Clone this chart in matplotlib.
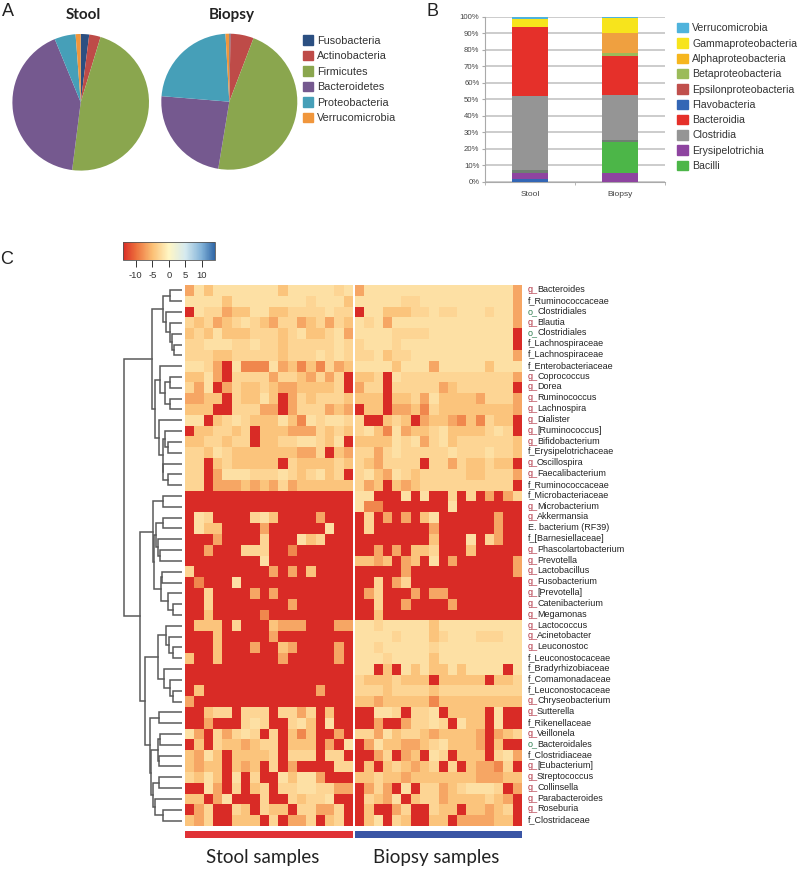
import matplotlib
matplotlib.use("Agg")
import matplotlib.pyplot as plt
import numpy as np
from matplotlib.colors import LinearSegmentedColormap, Normalize
from matplotlib.patches import Patch

plt.rcParams['font.family'] = ['Liberation Sans', 'DejaVu Sans']
plt.rcParams['axes.unicode_minus'] = False

W, H = 800, 869

# panel A
phyla = ["Fusobacteria", "Actinobacteria", "Firmicutes", "Bacteroidetes", "Proteobacteria", "Verrucomicrobia"]
phyla_colors = ["#2B4F81", "#BE4B48", "#8AA64E", "#75598F", "#469FB8", "#F0963C"]
stool_pie = [2.0, 2.7, 47.3, 41.8, 5.0, 1.2]
biopsy_pie = [0.3, 5.5, 46.8, 23.7, 22.8, 0.9]

# panel B, legend order top to bottom
classes = ["Verrucomicrobia", "Gammaproteobacteria", "Alphaproteobacteria", "Betaproteobacteria",
           "Epsilonproteobacteria", "Flavobacteria", "Bacteroidia", "Clostridia", "Erysipelotrichia", "Bacilli"]
class_colors = ["#4FB3DC", "#F7E41C", "#F6B61E", "#9BBB59", "#C0504D", "#3366B5", "#E5302A", "#959595", "#8E44A0", "#4CB648"]
# bottom to top
stool_names = ["Flavobacteria", "Erysipelotrichia", "other", "Clostridia", "Bacteroidia", "Gammaproteobacteria", "Verrucomicrobia"]
stool_vals = [1.5, 3.5, 2.0, 45.0, 42.0, 4.8, 1.2]
biopsy_names = ["Erysipelotrichia", "Bacilli", "other", "Clostridia", "Bacteroidia", "Betaproteobacteria", "Alphaproteobacteria", "Gammaproteobacteria", "Verrucomicrobia"]
biopsy_vals = [5.5, 18.5, 1.5, 27.0, 23.5, 2.0, 12.0, 9.3, 0.7]
other_color = "#6F7F72"

# panel C
labels = ["g_Bacteroides", "f_Ruminococcaceae", "o_Clostridiales", "g_Blautia", "o_Clostridiales",
          "f_Lachnospiraceae", "f_Lachnospiraceae", "f_Enterobacteriaceae", "g_Coprococcus", "g_Dorea",
          "g_Ruminococcus", "g_Lachnospira", "g_Dialister", "g_[Ruminococcus]", "g_Bifidobacterium",
          "f_Erysipelotrichaceae", "g_Oscillospira", "g_Faecalibacterium", "f_Ruminococcaceae", "f_Microbacteriaceae",
          "g_Microbacterium", "g_Akkermansia", "E. bacterium (RF39)", "f_[Barnesiellaceae]", "g_Phascolartobacterium",
          "g_Prevotella", "g_Lactobacillus", "g_Fusobacterium", "g_[Prevotella]", "g_Catenibacterium",
          "g_Megamonas", "g_Lactococcus", "g_Acinetobacter", "g_Leuconostoc", "f_Leuconostocaceae",
          "f_Bradyrhizobiaceae", "f_Comamonadaceae", "f_Leuconostocaceae", "g_Chryseobacterium", "g_Sutterella",
          "f_Rikenellaceae", "g_Veillonela", "o_Bacteroidales", "f_Clostridiaceae", "g_[Eubacterium]",
          "g_Streptococcus", "g_Collinsella", "g_Parabacteroides", "g_Roseburia", "f_Clostridaceae"]

# one char per cell, see level_values
level_values = {'1': -2.0, '2': -3.0, '3': -4.5, '4': -6.5, '5': -8.5, 'x': -14.0}
stool_rows = [
    "413111111131111121", "111131111111121113", "x12243311332222122", "232432123422432423",
    "323133322232133214", "221112212232222212", "222332222232221212", "1124x1555143535243",
    "3314x222242234242x", "241x4233234433332x", "4433x23313x4232223", "333xx22244x4222434",
    "11x321233313512112", "x332232x3334442323", "3322322x332211231x", "223123333333442x34",
    "22x3233333x2333323", "22x41112221232132x", "22x444343424333333", "xxxxxxxxxxxxxxxxxx",
    "xxxxxxxxxxxxxxxxxx", "x12xxxx213xxxx4xxx", "x133xxxx4xxxxxx1xx", "xxx4xxxx2xxx132xxx",
    "xx4xxx222xx5xxxxxx", "xxxxxxxx1xxxxxxxxx", "2xxxxxxxx4x4x3xxxx", "x5xxx1xxxxxxxxxxxx",
    "xx2xxxx4x4xxxxxxxx", "xx2xxxxxxxx4xxxxxx", "xx3xxxxx5xxxxxxxxx", "x333x2xxx3444xxx44",
    "xxx3xxxxx4xxxxxxxx", "xxx3xxx4xx34xxxx4x", "3xx3xxxxxx4xxxxx4x", "xxxxxxxxxxxxxxxxxx",
    "xxxxxxxxxxxxxxxxxx", "x3xxxxxxxxxxxx4xxx", "4xxxxxxxxxxxxxxxxx", "xx322x222x2242x3xx",
    "xx4xxx212xx213x1xx", "14x24212x2x353xx4x", "x3x2334322x333x4x1", "3413x33332x222x22x",
    "3433x343x2x4xxxx22", "2313x1x2xx13114xxx", "xx14x2x32x22112244", "33x41xxx2xx23221xx",
    "x42xx23x233x22442x", "342xx333x2x442x32x"]
biopsy_rows = [
    "411111111111111114", "111112211111111114", "x11333221221112114", "121411111111111114",
    "11112222111111111x", "21112111111111111x", "221322111111111114", "111131114111113111",
    "332x12222222222224", "422x2222243222222x", "333x33241333342224", "x33x44352333333334",
    "2xx323x4334535233x", "21351433213333212x", "333312142132222223", "224212222212221223",
    "2342222x224233233x", "213412322222332224", "243x3432222222222x", "11xxx1x1xx2x2x4x42",
    "155xxxxxxx1xxxxxxx", "x2x4x4x31xxxxxx4xx", "x2xxxxxx4xxxxxx4xx", "xxxxxxxx3xxx1x24xx",
    "xx4x4x332xxx3xxxxx", "3343x43x1x4xxxxxx4", "xxxxx4xxxxxxxxxxx4", "xx2x42xxxxxxxxxxxx",
    "x42xxx4x44xxxxxxxx", "xx2xx4xxxx4xxxxxxx", "xx3xxxxxxxxxxxxxxx", "112111113111111111",
    "111121113211122211", "112111112111111111", "111211113111111111", "11x3x13133131111x1",
    "23332333x33333x332", "222322223222222222", "334333335333333333", "xx112x221x3333x1xx",
    "xx4xx42212x133x1xx", "22413223433334x432", "x4133443213334x3xx", "xx42x43x12x333x214",
    "x3x323432x2x34452x", "332334333333344433", "x424x1x224321112x4", "x2341x32243333234x",
    "x3xx42xx233x33432x", "x31x23xx33x444433x"]

# dendrogram: (merge height, left, right), L is a leaf, leaves run in row order
L = None
tree_a = (19, (12, L, L), (15.7, L, (11.7, L, (10, L, (8, L, L)))))
tree_b1 = (21.7, L, (17, (12, L, L), (12, L, L)))
tree_b2 = (22.7, L, (19, (16.7, L, (13.3, L, L)), (18.3, L, (13.7, L, L))))
tree_f3 = (25.7, (19, L, L), (24, L, (21.7, L, L)))
tree_f4 = (21, (20, L, L), (13.3, L, (9, L, L)))
tree_f = (29, (18.3, L, L), (27.3, tree_f3, tree_f4))
tree_h = (24, (16, L, (12.3, L, (9, L, L))), (17.7, L, (11.7, L, (9, L, L))))
tree_j1 = (24, (21.7, L, L), (23, L, L))
tree_j2 = (29, (22.3, L, L), (26.7, L, (19, L, L)))
tree_i = (31.7, (22.3, L, L), (31, tree_j1, tree_j2))
tree = (58, (30, tree_a, (26.7, tree_b1, tree_b2)), (41.7, tree_f, (36.7, tree_h, tree_i)))

cmap_nodes = [(-14, "#D92B26"), (-10, "#EC6F3C"), (-5, "#FBBF75"), (0, "#FFF6C4"),
              (5, "#D6EAEF"), (10, "#82B2D8"), (14, "#2F66A6")]
cbar_ticks = [-10, -5, 0, 5, 10]


def ax_px(left, top, right, bottom):
    return fig.add_axes([left / W, 1 - bottom / H, (right - left) / W, (bottom - top) / H])


def decode(rows):
    return np.array([[level_values[c] for c in r] for r in rows])


fig = plt.figure(figsize=(W / 100, H / 100), dpi=100)

for x, y, s in [(8, 11, "A"), (433, 11, "B"), (7, 259, "C")]:
    fig.text(x / W, 1 - y / H, s, fontsize=13, ha='center', va='center', color="#222222")

# --- A
for cx, cy, r, vals, title, tx in [(80.7, 102.3, 68.3, stool_pie, "Stool", 83),
                                   (229.3, 101.7, 68, biopsy_pie, "Biopsy", 232)]:
    ax = ax_px(cx - r, cy - r, cx + r, cy + r)
    ax.pie(vals, colors=phyla_colors, startangle=90, counterclock=False)
    ax.set_xlim(-1, 1)
    ax.set_ylim(-1, 1)
    fig.text(tx / W, 1 - 15 / H, title, fontsize=11, fontweight='bold', family='Lato', ha='center', va='center', color="#222222")

fig.legend(handles=[Patch(color=c, label=n) for n, c in zip(phyla, phyla_colors)],
           loc='upper left', bbox_to_anchor=(302.5 / W, 1 - 35 / H), frameon=False, fontsize=7.8,
           handlelength=1.0, handleheight=1.0, handletextpad=0.38, labelspacing=0.46, borderpad=0, borderaxespad=0,
           labelcolor="#333333")

# --- B
ax = ax_px(485, 16.7, 665, 181.7)
color_of = dict(zip(classes, class_colors))
color_of["other"] = other_color
color_of["Alphaproteobacteria"] = "#EFA040"
for i, (names, vals) in enumerate([(stool_names, stool_vals), (biopsy_names, biopsy_vals)]):
    bottom = 0
    for n, v in zip(names, vals):
        ax.bar(i, v, 0.4, bottom=bottom, color=color_of[n], zorder=3)
        bottom += v
ax.set_xlim(-0.5, 1.5)
ax.set_ylim(0, 100)
ax.set_yticks(range(0, 101, 10))
ax.set_yticklabels([f"{v}%" for v in range(0, 101, 10)], fontsize=5.6, color="#444444")
ax.set_xticks([0, 1])
ax.set_xticklabels(["Stool", "Biopsy"], fontsize=6, color="#444444")
ax.set_xticks([-0.5, 0.5, 1.5], minor=True)
ax.tick_params(axis='x', which='major', length=0, pad=7)
ax.tick_params(axis='x', which='minor', length=2, color="#aaaaaa")
ax.tick_params(axis='y', length=2, color="#aaaaaa", pad=2)
ax.grid(axis='y', color="#BEBEBE", lw=1.1, zorder=0)
ax.set_axisbelow(True)
for s in ['top', 'right']:
    ax.spines[s].set_visible(False)
ax.spines['left'].set_color("#aaaaaa")
ax.spines['bottom'].set_color("#aaaaaa")

fig.legend(handles=[Patch(color=c, label=n) for n, c in zip(classes, class_colors)],
           loc='upper left', bbox_to_anchor=(677 / W, 1 - 23 / H), frameon=False, fontsize=7.6,
           handlelength=1.0, handleheight=1.0, handletextpad=0.45, labelspacing=0.47, borderpad=0, borderaxespad=0,
           labelcolor="#333333")

# --- C
cmap = LinearSegmentedColormap.from_list("heat", [((v + 14) / 28, c) for v, c in cmap_nodes])
norm = Normalize(-14, 14)

ax_s = ax_px(185, 285, 353, 826)
ax_b = ax_px(355, 285, 522, 826)
mesh = ax_s.pcolormesh(decode(stool_rows), cmap=cmap, norm=norm)
ax_b.pcolormesh(decode(biopsy_rows), cmap=cmap, norm=norm)
for a in (ax_s, ax_b):
    a.set_ylim(50, 0)
    a.axis('off')

# row labels, prefix coloured apart from the name
prefix_colors = {"g_": "#B03040", "o_": "#2E7D4F"}
for i, lab in enumerate(labels):
    y = i + 0.5
    pre = lab[:2]
    if pre in prefix_colors:
        ax_b.annotate(pre, (1, y), xycoords=('axes fraction', 'data'), xytext=(5.5, 0.8), textcoords='offset pixels',
                      fontsize=6.5, va='center', color=prefix_colors[pre])
        ax_b.annotate(lab[2:], (1, y), xycoords=('axes fraction', 'data'), xytext=(15, 0.8), textcoords='offset pixels',
                      fontsize=6.5, va='center', color="#222222")
    else:
        ax_b.annotate(lab, (1, y), xycoords=('axes fraction', 'data'), xytext=(5.5, 0.8), textcoords='offset pixels',
                      fontsize=6.5, va='center', color="#222222")

# dendrogram
ax_d = ax_px(120, 285, 181.7, 826)
ax_d.set_xlim(61.7, 0)
ax_d.set_ylim(50, 0)
ax_d.axis('off')
next_leaf = [0]


def draw_node(node):
    if node is None:
        next_leaf[0] += 1
        return next_leaf[0] - 0.5, 0
    h, left, right = node
    y1, h1 = draw_node(left)
    y2, h2 = draw_node(right)
    ax_d.plot([h1, h, h, h2], [y1, y1, y2, y2], color="#5A5A5A", lw=1.1, solid_joinstyle='miter')
    return (y1 + y2) / 2, h


draw_node(tree)

# colour key
cax = ax_px(122.7, 242.3, 215, 260)
cb = fig.colorbar(mesh, cax=cax, orientation='horizontal', ticks=cbar_ticks)
cb.ax.tick_params(labelsize=6.8, length=5, width=0.7, color="#333333", labelcolor="#333333", pad=3)
cb.outline.set_edgecolor("#555555")
cb.outline.set_linewidth(0.6)

# sample strips
for a, c, txt, tx in [(ax_px(185, 831, 353, 837.5), "#E03236", "Stool samples", 263),
                      (ax_px(355, 831, 522, 837.5), "#3A55A5", "Biopsy samples", 436.5)]:
    a.axhspan(0, 1, color=c)
    a.set_ylim(0, 1)
    a.axis('off')
    fig.text(tx / W, 1 - 858 / H, txt, fontsize=13.5, family='Lato', ha='center', va='center', color="#222222")

fig.savefig("out.png", dpi=100)
